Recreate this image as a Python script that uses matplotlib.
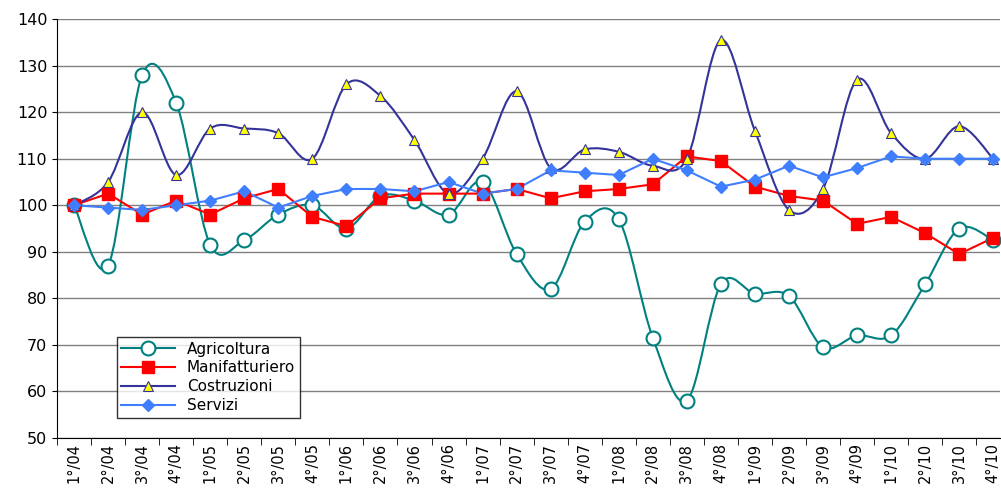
import numpy as np
import matplotlib.pyplot as plt
from matplotlib.path import Path
from matplotlib.patches import PathPatch
from matplotlib.lines import Line2D

plt.rcParams['font.family'] = ['DejaVu Sans']

# =========================
# DATA
# =========================

quarters = [f"{q}°/{y:02d}" for y in range(4, 11) for q in range(1, 5)]

agricoltura = [100, 87, 128, 122, 91.5, 92.5, 98, 100, 95, 102, 101, 98, 105, 89.5,
               82, 96.5, 97, 71.5, 58, 83, 81, 80.5, 69.5, 72, 72, 83, 95, 92.5]
manifatturiero = [100, 102.5, 98, 101, 98, 101.5, 103.5, 97.5, 95.5, 101.5, 102.5, 102.5, 102.5, 103.5,
                  101.5, 103, 103.5, 104.5, 110.5, 109.5, 104, 102, 101, 96, 97.5, 94, 89.5, 93]
costruzioni = [100, 105, 120, 106.5, 116.5, 116.5, 115.5, 110, 126, 123.5, 114, 102.5, 110, 124.5,
               108, 112, 111.5, 108.5, 110, 135.5, 116, 99, 103.5, 127, 115.5, 110, 117, 110]
servizi = [100, 99.5, 99, 100, 101, 103, 99.5, 102, 103.5, 103.5, 103, 105, 102.5, 103.5,
           107.5, 107, 106.5, 110, 107.5, 104, 105.5, 108.5, 106, 108, 110.5, 110, 110, 110]


def smooth_path(x, y):
    # Excel-style smoothed line: cubic Bezier through the points
    pts = np.column_stack([x, y]).astype(float)
    verts = [pts[0]]
    codes = [Path.MOVETO]
    n = len(pts)
    for i in range(n - 1):
        p0 = pts[i - 1] if i > 0 else pts[i]
        p1, p2 = pts[i], pts[i + 1]
        p3 = pts[i + 2] if i + 2 < n else pts[i + 1]
        c1 = p1 + (p2 - p0) / 6
        c2 = p2 - (p3 - p1) / 6
        verts += [c1, c2, p2]
        codes += [Path.CURVE4] * 3
    return Path(verts, codes)


series = [
    ("Agricoltura", agricoltura, "#008080", dict(marker='o', mfc='white', mec='#008080', ms=10, mew=1.5), True),
    ("Manifatturiero", manifatturiero, "#ff0000", dict(marker='s', mfc='#ff0000', mec='#ff0000', ms=8), False),
    ("Costruzioni", costruzioni, "#333399", dict(marker='^', mfc='#ffff00', mec='#333399', ms=7, mew=0.8), True),
    ("Servizi", servizi, "#3f7fff", dict(marker='D', mfc='#3f7fff', mec='#3f7fff', ms=6.5), False),
]

fig = plt.figure(figsize=(10.01, 4.93), dpi=100)
ax = fig.add_axes([0.057, 0.112, 0.942, 0.849])

x = np.arange(len(quarters))
handles = []
for name, vals, color, mk, smooth in series:
    if smooth:
        ax.add_patch(PathPatch(smooth_path(x, vals), fill=False, ec=color, lw=1.5, zorder=2))
    else:
        ax.plot(x, vals, color=color, lw=1.5, zorder=2)
    ax.plot(x, vals, ls='none', zorder=3, **mk)
    handles.append(Line2D([], [], color=color, lw=1.5, **mk))

ax.set_ylim(50, 140)
ax.set_yticks(range(50, 141, 10))
ax.set_xlim(-0.47, 27.2)
ax.set_xticks(x)
ax.set_xticklabels(quarters, rotation=90, fontsize=10.5)
ax.set_xticks(np.arange(-0.5, 27.5, 1), minor=True)
ax.tick_params(axis='x', which='major', length=0)
ax.tick_params(axis='x', which='minor', length=5)
ax.tick_params(axis='y', labelsize=11.5)
ax.grid(axis='y', color='#808080', lw=1)
ax.set_axisbelow(True)
for s in ['top', 'right']:
    ax.spines[s].set_visible(False)

leg = ax.legend(handles, [s[0] for s in series], loc='lower left', bbox_to_anchor=(0.055, 0.03),
                fontsize=11, frameon=True, fancybox=False, edgecolor='black',
                handlelength=3.5, borderpad=0.3, labelspacing=0.25)
leg.get_frame().set_linewidth(1)

fig.savefig("out.png", dpi=100)
